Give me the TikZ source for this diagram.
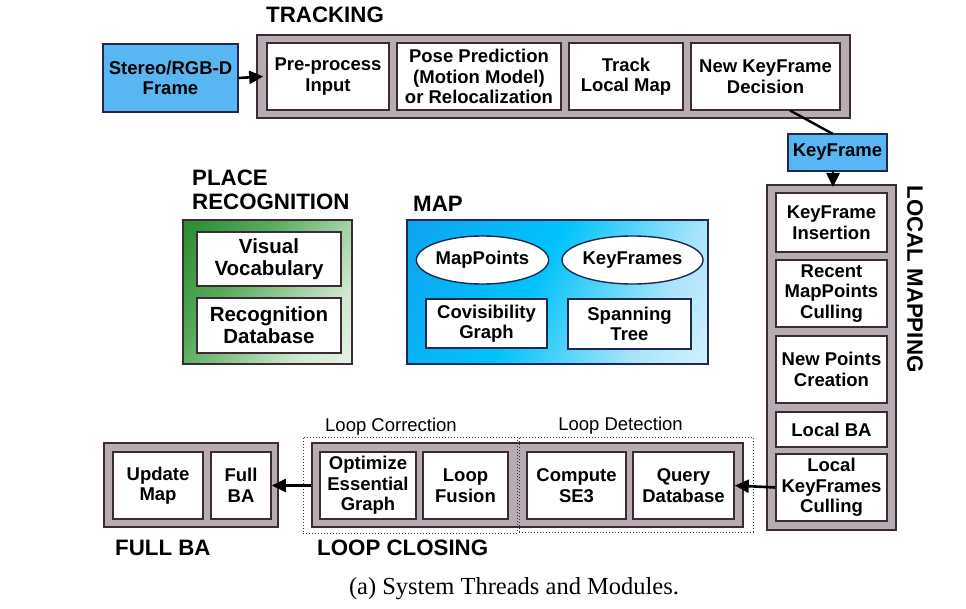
\documentclass[tikz,border=0pt]{standalone}
\usepackage{fontspec}
\setmainfont{Liberation Sans}
\newfontfamily\capserif{Liberation Serif}
\usetikzlibrary{arrows.meta,shapes.geometric}
\definecolor{boxgray}{RGB}{182,172,178}
\definecolor{boxedge}{RGB}{62,42,52}
\definecolor{frameblue}{RGB}{88,182,242}
\definecolor{edgeblue}{RGB}{30,40,80}
\definecolor{pgreen}{RGB}{8,120,18}
\definecolor{pgreenmid}{RGB}{85,170,90}
\definecolor{pgreenpale}{RGB}{205,232,205}
\definecolor{mblue}{RGB}{25,145,235}
\definecolor{mcyan}{RGB}{0,195,250}
\definecolor{mpale}{RGB}{170,228,250}
\pgfdeclareverticalshading{mapshade}{100bp}{color(0bp)=(white); color(30bp)=(mpale); color(55bp)=(mcyan); color(100bp)=(mblue)}
\pgfdeclareverticalshading{prshade}{100bp}{color(0bp)=(white); color(30bp)=(pgreenpale); color(62bp)=(pgreenmid); color(100bp)=(pgreen)}
\newcommand\bxfont{\bfseries\fontsize{18.5}{20.5}\selectfont}
\newcommand\bigbxfont{\bfseries\fontsize{20.5}{22}\selectfont}
\newcommand\ttlfont{\bfseries\fontsize{22.3}{24}\selectfont}
\newcommand\lblfont{\fontsize{18.5}{20.5}\selectfont}
\tikzset{
  outerbox/.style={draw=boxedge, line width=1.6pt, fill=boxgray, inner sep=0pt},
  inbox/.style={draw=boxedge, line width=1.6pt, fill=white, inner sep=0pt, align=center, font=\bxfont},
  inell/.style={ellipse, draw=edgeblue, line width=1.4pt, fill=white, inner sep=0pt, font=\bxfont},
  bluebox/.style={draw=edgeblue, line width=1.3pt, fill=frameblue, inner sep=0pt, align=center, font=\bxfont},
  ttl/.style={font=\ttlfont, inner sep=0pt, align=left},
  lbl/.style={font=\lblfont, inner sep=0pt},
  dotbox/.style={draw=black!80, line width=1pt, dotted},
  flow/.style={line width=2.6pt, -{Triangle[length=14pt,width=13pt]}},
}
\begin{document}
\begin{tikzpicture}[x=1pt,y=-1pt]
\useasboundingbox (0,0) rectangle (966,609);

% ---------- TRACKING ----------
\node[ttl, anchor=west] (ttrack) at (266,14.5) {TRACKING};
\node[bluebox, minimum width=135pt, minimum height=68pt] (stereo) at (170.5,78) {Stereo/RGB-D\\Frame};
\node[outerbox, minimum width=593pt, minimum height=83pt] (track) at (553.5,76.5) {};
\node[inbox, minimum width=122pt, minimum height=67pt] (pre) at (328,76.5) {Pre-process\\Input};
\node[inbox, minimum width=164pt, minimum height=67pt] (pose) at (479,76.5) {Pose Prediction\\(Motion Model)\\or Relocalization};
\node[inbox, minimum width=114pt, minimum height=67pt] (tlm) at (626,76.5) {Track\\Local Map};
\node[inbox, minimum width=149pt, minimum height=67pt] (nkf) at (765.5,76.5) {New KeyFrame\\Decision};
\draw[flow] (stereo.east) -- ([xshift=-3pt]pre.west);

% ---------- KEYFRAME ----------
\node[bluebox, minimum width=99pt, minimum height=37pt] (kf) at (837.5,152.5) {KeyFrame};
\coordinate (nkfout) at (790,110.5);
\coordinate (kfin) at (833,134);
\draw[line width=2.4pt] (nkfout) -- (kfin);

% ---------- LOCAL MAPPING ----------
\node[outerbox, minimum width=129pt, minimum height=345pt] (lm) at (831.5,357.5) {};
\node[ttl, rotate=-90] (tlm2) at (915,279) {LOCAL MAPPING};
\node[inbox, minimum width=111pt, minimum height=59pt] (kfi) at (831.5,222.5) {KeyFrame\\Insertion};
\node[inbox, minimum width=111pt, minimum height=67pt] (rmc) at (831.5,293.5) {Recent\\MapPoints\\Culling};
\node[inbox, minimum width=111pt, minimum height=67pt] (npc) at (831.5,369.5) {New Points\\Creation};
\node[inbox, minimum width=111pt, minimum height=35pt] (lba) at (831.5,429.5) {Local BA};
\node[inbox, minimum width=111pt, minimum height=67pt] (lkc) at (831.5,487.5) {Local\\KeyFrames\\Culling};
\coordinate (kfbot) at (833,171);
\coordinate (lmtop) at (833,187);
\draw[flow] (kfbot) -- (lmtop);

% ---------- PLACE RECOGNITION ----------
\node[ttl, anchor=west] (tpr) at (192,190) {PLACE\\[0pt]RECOGNITION};
\node[draw=boxedge, line width=1.4pt, inner sep=0pt, minimum width=169pt, minimum height=144pt,
      shading=prshade, shading angle=55] (pr) at (267.5,292) {};
\node[inbox, font=\bigbxfont, minimum width=144pt, minimum height=54pt] (vv) at (269,259) {Visual\\Vocabulary};
\node[inbox, font=\bigbxfont, minimum width=144pt, minimum height=55pt] (rdb) at (269,325.5) {Recognition\\Database};

% ---------- MAP ----------
\node[ttl, anchor=west] (tmap) at (413,203.5) {MAP};
\node[draw=edgeblue, line width=1.4pt, inner sep=0pt, minimum width=301pt, minimum height=144pt,
      shading=mapshade, shading angle=62] (map) at (557.5,292) {};
\node[inell, minimum width=131pt, minimum height=48pt] (mp) at (482.5,260) {MapPoints};
\node[inell, minimum width=131pt, minimum height=48pt] (kfs2) at (632.5,260) {KeyFrames};
\node[inbox, draw=edgeblue, minimum width=121pt, minimum height=49pt] (cg) at (486.5,323.5) {Covisibility\\Graph};
\node[inbox, draw=edgeblue, minimum width=123pt, minimum height=50pt] (st) at (629.5,324) {Spanning\\Tree};

% ---------- FULL BA ----------
\node[outerbox, minimum width=174pt, minimum height=84pt] (fullba) at (191,485) {};
\node[inbox, minimum width=90pt, minimum height=67pt] (um) at (158,485.5) {Update\\Map};
\node[inbox, minimum width=60pt, minimum height=67pt] (fba) at (241,485.5) {Full\\BA};
\node[ttl, anchor=west] (tfba) at (115,548) {FULL BA};

% ---------- LOOP CLOSING ----------
\node[outerbox, minimum width=431pt, minimum height=84pt] (lc) at (527.5,485) {};
\node[inbox, minimum width=96pt, minimum height=67pt] (oeg) at (368,485.5) {Optimize\\Essential\\Graph};
\node[inbox, minimum width=85pt, minimum height=67pt] (lf) at (465.5,485.5) {Loop\\Fusion};
\node[inbox, minimum width=99pt, minimum height=67pt] (cse) at (576.5,485.5) {Compute\\SE3};
\node[inbox, minimum width=101pt, minimum height=67pt] (qdb) at (683.5,485.5) {Query\\Database};
\node[dotbox, inner sep=0pt, minimum width=214pt, minimum height=96pt] (lcorr) at (410,485) {};
\node[dotbox, inner sep=0pt, minimum width=234pt, minimum height=95pt] (ldet) at (636,484.5) {};
\node[lbl] (tlcorr) at (391,426.5) {Loop Correction};
\node[lbl] (tldet) at (620.5,426) {Loop Detection};
\node[ttl, anchor=west] (tlc) at (317,548) {LOOP CLOSING};

\draw[flow] (lkc.west) -- (qdb.east);
\draw[flow] (lc.west |- fba.east) -- (fba.east);

% ---------- CAPTION ----------
\node[inner sep=0pt, anchor=base, font=\capserif\fontsize{24.5}{26}\selectfont] (cap) at (514,594) {(a) System Threads and Modules.};
\end{tikzpicture}
\end{document}
